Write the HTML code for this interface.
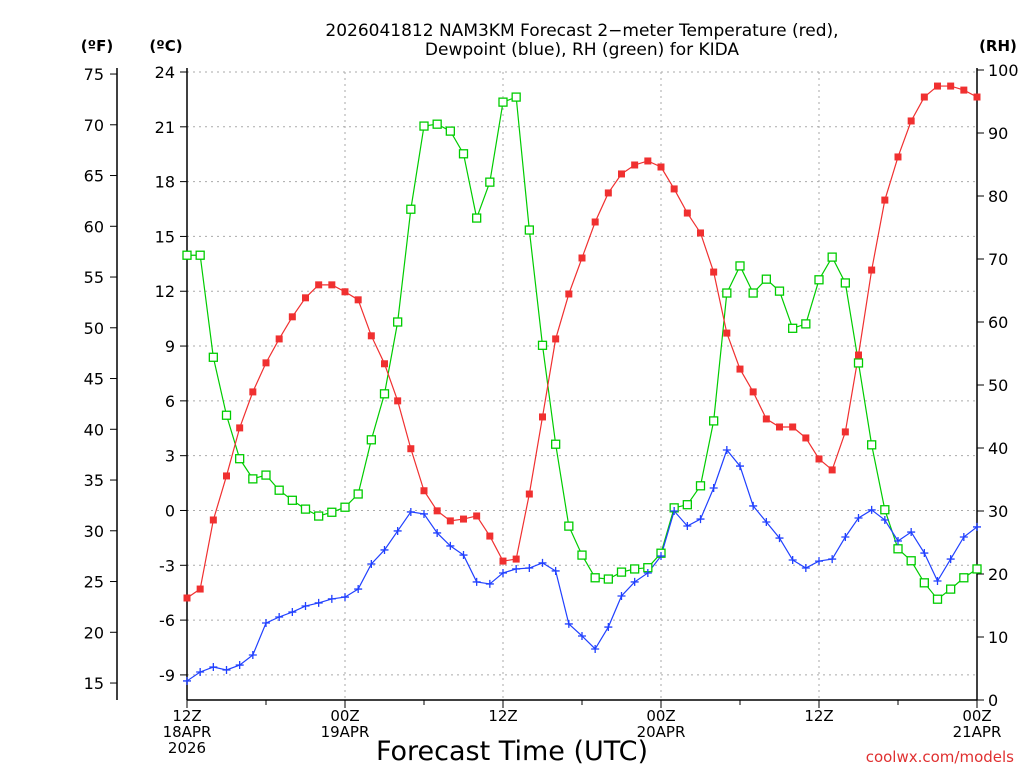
<!DOCTYPE html>
<html><head><meta charset="utf-8"><style>
html,body{margin:0;padding:0;background:#fff;}
svg text{font-family:"DejaVu Sans","Liberation Sans",sans-serif;}
</style></head><body>
<svg id="chart" width="1024" height="768" xmlns="http://www.w3.org/2000/svg">
<text x="582" y="36" text-anchor="middle" font-size="17">2026041812 NAM3KM Forecast 2−meter Temperature (red),</text>
<text x="582" y="55" text-anchor="middle" font-size="17">Dewpoint (blue), RH (green) for KIDA</text>
<text x="97" y="51" text-anchor="middle" font-size="15" font-weight="bold">(ºF)</text>
<text x="166" y="51" text-anchor="middle" font-size="15" font-weight="bold">(ºC)</text>
<text x="998" y="51" text-anchor="middle" font-size="15" font-weight="bold">(RH)</text>
<text x="512" y="760" text-anchor="middle" font-size="27">Forecast Time (UTC)</text>
<text x="1014" y="762" text-anchor="end" font-size="15" fill="#e03030">coolwx.com/models</text>
<g id="grid"></g>
<g id="axes"></g>
<g id="series"></g>
</svg>
<script>
const hours = Array.from({length:61},(_,i)=>i);
const tempC = [-4.79,-4.30,-0.52,1.89,4.52,6.49,8.08,9.39,10.60,11.64,12.35,12.35,11.97,11.53,9.56,8.03,6.00,3.38,1.08,-0.02,-0.57,-0.47,-0.30,-1.40,-2.77,-2.66,0.90,5.12,9.39,11.85,13.82,15.79,17.38,18.42,18.91,19.13,18.80,17.60,16.28,15.19,13.05,9.71,7.74,6.49,5.01,4.57,4.57,3.97,2.82,2.22,4.30,8.51,13.16,16.99,19.35,21.32,22.63,23.23,23.23,23.01,22.63];
const dewC = [-9.33,-8.84,-8.57,-8.73,-8.46,-7.91,-6.16,-5.83,-5.56,-5.23,-5.06,-4.84,-4.74,-4.30,-2.93,-2.16,-1.12,-0.08,-0.19,-1.23,-1.94,-2.44,-3.91,-4.02,-3.42,-3.20,-3.15,-2.87,-3.31,-6.21,-6.87,-7.58,-6.38,-4.68,-3.91,-3.42,-2.49,-0.03,-0.85,-0.47,1.23,3.31,2.43,0.25,-0.63,-1.51,-2.71,-3.15,-2.77,-2.66,-1.45,-0.41,0.03,-0.52,-1.67,-1.18,-2.33,-3.86,-2.66,-1.45,-0.90];
const rh = [70.6,70.6,54.4,45.2,38.3,35.1,35.7,33.3,31.7,30.3,29.2,29.8,30.6,32.7,41.3,48.6,60.0,77.9,91.1,91.4,90.3,86.7,76.5,82.2,94.9,95.7,74.6,56.3,40.6,27.6,23.0,19.4,19.2,20.3,20.8,21.0,23.3,30.5,31.0,34.0,44.3,64.6,68.9,64.6,66.8,64.9,59.0,59.7,66.7,70.3,66.2,53.5,40.5,30.2,24.0,22.1,18.6,16.0,17.6,19.4,20.8];
const cTicks = [24,21,18,15,12,9,6,3,0,-3,-6,-9];
const fTicks = [75,70,65,60,55,50,45,40,35,30,25,20,15];
const rhTicks = [100,90,80,70,60,50,40,30,20,10,0];
const xTickHours = [0,12,24,36,48,60];
const xTickLabels = [["12Z","18APR","2026"],["00Z","19APR"],["12Z"],["00Z","20APR"],["12Z"],["00Z","21APR"]];

const X0=187,X1=977,YB=700;
const xS=h=>X0+h*(X1-X0)/60;
const yC=c=>72+(24-c)*18.27;
const yF=f=>yC((f-32)*5/9);
const yR=r=>700-r*6.3;
const NS="http://www.w3.org/2000/svg";
function mk(tag,parent,attrs){const e=document.createElementNS(NS,tag);for(const k in attrs)e.setAttribute(k,attrs[k]);parent.appendChild(e);return e;}
const grid=document.getElementById('grid'),axes=document.getElementById('axes'),ser=document.getElementById('series');

cTicks.forEach(c=>{
  const y=yC(c);
  const g=mk('line',grid,{x1:X0,x2:X1,y1:y,y2:y,stroke:'#aaa','stroke-dasharray':'2,4'});
  
  
  mk('line',axes,{x1:X0-7,x2:X0,y1:y,y2:y,stroke:'#000'});
  const t=mk('text',axes,{x:X0-12,y:y+6,'text-anchor':'end','font-size':'16'});t.textContent=c;
  
  
});
xTickHours.forEach((h,i)=>{
  const x=xS(h);
  if(i>0&&i<xTickHours.length-1){const g=mk('line',grid,{x1:x,x2:x,y1:72,y2:YB,stroke:'#aaa','stroke-dasharray':'2,4'});
  
  }
  mk('line',axes,{x1:x,x2:x,y1:YB,y2:YB+8,stroke:'#000'});
  xTickLabels[i].forEach((s,j)=>{const t=mk('text',axes,{x:x,y:YB+21+j*16,'text-anchor':'middle','font-size':'15'});t.textContent=s;
  
  });
});
for(let h=6;h<60;h+=12){mk('line',axes,{x1:xS(h),x2:xS(h),y1:YB,y2:YB+5,stroke:'#000'});}
fTicks.forEach(f=>{const y=yF(f);mk('line',axes,{x1:110,x2:117,y1:y,y2:y,stroke:'#000'});
  const t=mk('text',axes,{x:104,y:y+6,'text-anchor':'end','font-size':'16'});t.textContent=f;
  
  });
rhTicks.forEach(r=>{const y=yR(r);mk('line',axes,{x1:X1,x2:X1+7,y1:y,y2:y,stroke:'#000'});
  const t=mk('text',axes,{x:X1+11,y:y+6,'text-anchor':'start','font-size':'16'});t.textContent=r;
  
  });
mk('line',axes,{x1:117,x2:117,y1:68,y2:YB,stroke:'#000','stroke-width':1.5});
mk('line',axes,{x1:X0,x2:X0,y1:68,y2:YB,stroke:'#000','stroke-width':1.5});
mk('line',axes,{x1:X1,x2:X1,y1:68,y2:YB,stroke:'#000','stroke-width':1.5});
mk('line',axes,{x1:X0,x2:X1,y1:YB,y2:YB,stroke:'#000','stroke-width':1.5});

function line(vals,yf,color,name){
  const p=mk('polyline',ser,{points:vals.map((v,i)=>xS(hours[i])+','+yf(v)).join(' '),fill:'none',stroke:color,'stroke-width':1.2});
  
  
}
line(rh,yR,'#00cc00','rh-line');
line(dewC,yC,'#2040ff','dewpoint-line');
line(tempC,yC,'#f03030','temperature-line');
rh.forEach((v,i)=>{const r=mk('rect',ser,{x:xS(hours[i])-4,y:yR(v)-4,width:8,height:8,fill:'#fff',stroke:'#00cc00','stroke-width':1.3});
  
  });
dewC.forEach((v,i)=>{const x=xS(hours[i]),y=yC(v);
  const p=mk('path',ser,{d:`M${x-4} ${y}H${x+4}M${x} ${y-4}V${y+4}`,stroke:'#2040ff','stroke-width':1.3});
  
  });
tempC.forEach((v,i)=>{const r=mk('rect',ser,{x:xS(hours[i])-3.5,y:yC(v)-3.5,width:7,height:7,fill:'#f03030'});
  
  });
</script>
</body></html>
